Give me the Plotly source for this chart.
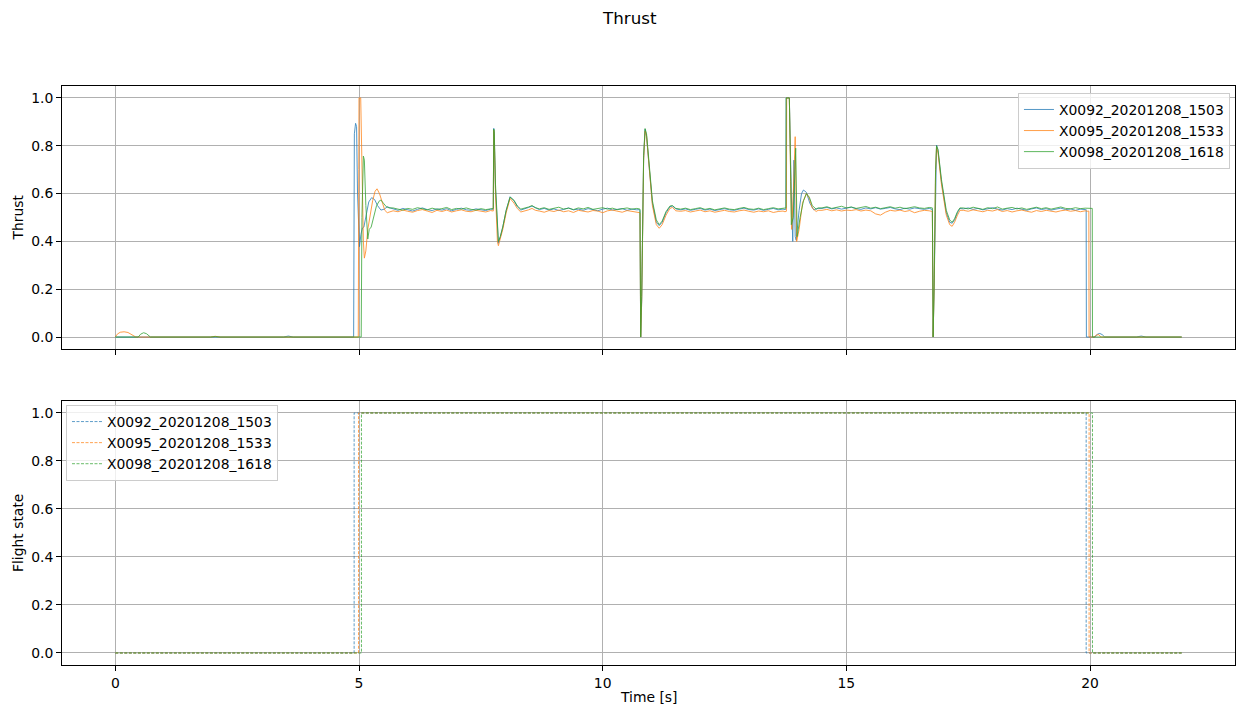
import plotly.graph_objects as go

NAMES = ["X0092_20201208_1503", "X0095_20201208_1533", "X0098_20201208_1618"]
COLORS = ["#1f77b4", "#ff7f0e", "#2ca02c"]

# ---- shared sample times of the steady (hover) segments ----
A_T = [5.7, 5.8, 5.9, 6.0, 6.1, 6.2, 6.3, 6.4, 6.5, 6.6, 6.7, 6.8, 6.9, 7.0, 7.1, 7.2, 7.3, 7.4, 7.5, 7.6, 7.7]
B_T = [8.7, 8.8, 8.9, 9.0, 9.1, 9.2, 9.3, 9.4, 9.5, 9.6, 9.7, 9.8, 9.9, 10.0, 10.1, 10.2, 10.3, 10.4, 10.5, 10.6, 10.7]
C_T = [11.6, 11.7, 11.8, 11.9, 12.0, 12.1, 12.2, 12.3, 12.4, 12.5, 12.6, 12.7, 12.8, 12.9, 13.0, 13.1, 13.2, 13.3, 13.4, 13.5, 13.6, 13.7]
D_T = [14.5, 14.6, 14.7, 14.8, 14.9, 15.0, 15.1, 15.2, 15.3, 15.4, 15.5, 15.6, 15.7, 15.8, 15.9, 16.0, 16.1, 16.2, 16.3, 16.4, 16.5, 16.6, 16.7]
E_T = [17.4, 17.5, 17.6, 17.7, 17.8, 17.9, 18.0, 18.1, 18.2, 18.3, 18.4, 18.5, 18.6, 18.7, 18.8, 18.9, 19.0, 19.1, 19.2, 19.3, 19.4, 19.5, 19.6, 19.7, 19.8, 19.9]

# ---- event sample times ----
EV1_T = [7.74, 7.755, 7.765, 7.775, 7.80, 7.84, 7.86, 7.90, 7.95, 8.02, 8.10, 8.18, 8.25, 8.32, 8.40, 8.48, 8.55, 8.62]
EV2_T = [10.75, 10.765, 10.78, 10.80, 10.84, 10.87, 10.90, 10.95, 11.02, 11.10, 11.16, 11.22, 11.30, 11.38, 11.43, 11.50]
EV4_T = [16.75, 16.765, 16.78, 16.80, 16.83, 16.85, 16.88, 16.95, 17.05, 17.12, 17.17, 17.22, 17.28, 17.33]

# ================= X0092 (blue) =================
b_pre_t = [0.0, 1.95, 2.05, 2.15, 3.45, 3.55, 3.65, 4.89, 4.905, 4.93, 4.95, 4.97, 5.01, 5.04, 5.07, 5.10, 5.15, 5.20, 5.26, 5.32, 5.38, 5.45, 5.52, 5.58, 5.64]
b_pre_v = [0.0, 0.0, 0.003, 0.0, 0.0, 0.004, 0.0, 0.0, 0.85, 0.894, 0.88, 0.60, 0.378, 0.43, 0.456, 0.46, 0.52, 0.565, 0.583, 0.575, 0.55, 0.531, 0.535, 0.545, 0.540]
b_A = [0.535, 0.530, 0.538, 0.532, 0.527, 0.534, 0.540, 0.533, 0.529, 0.536, 0.531, 0.537, 0.528, 0.534, 0.539, 0.532, 0.530, 0.536, 0.533, 0.529, 0.535]
b_ev1 = [0.532, 0.534, 0.873, 0.85, 0.62, 0.42, 0.392, 0.42, 0.46, 0.53, 0.587, 0.57, 0.545, 0.531, 0.535, 0.542, 0.548, 0.540]
b_B = [0.533, 0.538, 0.531, 0.536, 0.529, 0.534, 0.540, 0.532, 0.535, 0.530, 0.537, 0.533, 0.528, 0.535, 0.539, 0.531, 0.534, 0.537, 0.530, 0.535, 0.532]
b_ev2 = [0.533, 0.53, 0.0, 0.15, 0.75, 0.869, 0.84, 0.72, 0.56, 0.48, 0.466, 0.48, 0.52, 0.545, 0.548, 0.536]
b_C = [0.532, 0.536, 0.530, 0.534, 0.538, 0.531, 0.535, 0.529, 0.533, 0.537, 0.532, 0.530, 0.535, 0.539, 0.533, 0.531, 0.536, 0.530, 0.534, 0.538, 0.532, 0.535]
b_ev3_t = [13.74, 13.76, 13.765, 13.83, 13.87, 13.90, 13.925, 13.95, 13.97, 14.03, 14.08, 14.12, 14.18, 14.25, 14.33, 14.42]
b_ev3_v = [0.533, 0.535, 1.0, 1.0, 0.60, 0.40, 0.74, 0.42, 0.405, 0.53, 0.60, 0.615, 0.605, 0.56, 0.532, 0.538]
b_D = [0.538, 0.542, 0.536, 0.540, 0.535, 0.539, 0.543, 0.537, 0.534, 0.540, 0.536, 0.541, 0.535, 0.538, 0.542, 0.536, 0.533, 0.539, 0.535, 0.540, 0.537, 0.534, 0.538]
b_ev4 = [0.535, 0.53, 0.0, 0.2, 0.7, 0.803, 0.78, 0.65, 0.52, 0.48, 0.476, 0.49, 0.52, 0.538]
b_E = [0.536, 0.540, 0.534, 0.538, 0.532, 0.537, 0.541, 0.535, 0.531, 0.537, 0.533, 0.539, 0.534, 0.530, 0.536, 0.540, 0.533, 0.537, 0.531, 0.535, 0.539, 0.533, 0.536, 0.530, 0.535, 0.533]
b_end_t = [19.91, 19.92, 19.925, 20.1, 20.15, 20.2, 20.25, 20.3, 20.95, 21.05, 21.15, 21.88]
b_end_v = [0.534, 0.533, 0.0, 0.0, 0.012, 0.015, 0.01, 0.0, 0.0, 0.004, 0.0, 0.0]

# ================= X0095 (orange) =================
o_pre_t = [0.0, 0.04, 0.1, 0.18, 0.26, 0.33, 0.39, 0.42, 1.95, 2.05, 2.15, 4.985, 4.995, 5.0, 5.035, 5.06, 5.09, 5.11, 5.14, 5.18, 5.22, 5.28, 5.33, 5.37, 5.42, 5.48, 5.53, 5.58, 5.64]
o_pre_v = [0.0, 0.012, 0.02, 0.022, 0.019, 0.01, 0.002, 0.0, 0.0, 0.003, 0.0, 0.0, 0.7, 1.0, 1.0, 0.7, 0.40, 0.33, 0.36, 0.45, 0.50, 0.57, 0.61, 0.62, 0.60, 0.56, 0.53, 0.52, 0.525]
o_A = [0.528, 0.524, 0.531, 0.526, 0.522, 0.529, 0.533, 0.527, 0.521, 0.530, 0.525, 0.531, 0.523, 0.528, 0.532, 0.526, 0.524, 0.530, 0.527, 0.523, 0.529]
o_ev1 = [0.526, 0.527, 0.865, 0.84, 0.60, 0.40, 0.382, 0.41, 0.45, 0.52, 0.58, 0.56, 0.537, 0.523, 0.526, 0.532, 0.538, 0.530]
o_B = [0.527, 0.522, 0.529, 0.525, 0.531, 0.524, 0.528, 0.521, 0.530, 0.526, 0.523, 0.529, 0.527, 0.520, 0.528, 0.531, 0.525, 0.522, 0.529, 0.526, 0.524]
o_ev2 = [0.522, 0.52, 0.0, 0.15, 0.74, 0.862, 0.84, 0.71, 0.55, 0.47, 0.455, 0.47, 0.51, 0.538, 0.542, 0.528]
o_C = [0.526, 0.529, 0.523, 0.527, 0.531, 0.524, 0.528, 0.522, 0.526, 0.530, 0.525, 0.523, 0.528, 0.531, 0.526, 0.522, 0.527, 0.524, 0.528, 0.521, 0.525, 0.527]
o_ev3_t = [13.74, 13.77, 13.775, 13.83, 13.86, 13.88, 13.92, 13.95, 13.98, 14.03, 14.10, 14.18, 14.24, 14.30, 14.38, 14.42]
o_ev3_v = [0.524, 0.526, 1.0, 1.0, 0.62, 0.45, 0.65, 0.838, 0.40, 0.45, 0.56, 0.60, 0.58, 0.54, 0.525, 0.53]
o_D = [0.530, 0.534, 0.528, 0.532, 0.527, 0.531, 0.529, 0.533, 0.527, 0.531, 0.528, 0.515, 0.510, 0.522, 0.530, 0.527, 0.531, 0.525, 0.529, 0.520, 0.526, 0.530, 0.528]
o_ev4 = [0.526, 0.525, 0.0, 0.2, 0.69, 0.795, 0.77, 0.64, 0.51, 0.47, 0.463, 0.48, 0.51, 0.53]
o_E = [0.530, 0.526, 0.532, 0.528, 0.524, 0.530, 0.527, 0.533, 0.525, 0.529, 0.523, 0.528, 0.531, 0.526, 0.522, 0.529, 0.525, 0.530, 0.527, 0.523, 0.528, 0.531, 0.526, 0.529, 0.524, 0.528]
o_end_t = [19.94, 19.975, 19.98, 20.08, 20.13, 20.18, 20.22, 21.0, 21.1, 21.2, 21.88]
o_end_v = [0.526, 0.527, 0.0, 0.0, 0.008, 0.01, 0.0, 0.0, 0.003, 0.0, 0.0]

# ================= X0098 (green) =================
g_pre_t = [0.0, 0.47, 0.52, 0.58, 0.64, 0.69, 0.72, 1.95, 2.05, 2.15, 5.045, 5.06, 5.09, 5.11, 5.14, 5.18, 5.21, 5.25, 5.30, 5.36, 5.42, 5.45, 5.50, 5.56, 5.62]
g_pre_v = [0.0, 0.0, 0.012, 0.018, 0.014, 0.004, 0.0, 0.0, 0.002, 0.0, 0.0, 0.5, 0.757, 0.74, 0.55, 0.41, 0.45, 0.46, 0.50, 0.55, 0.57, 0.573, 0.56, 0.545, 0.54]
g_A = [0.540, 0.535, 0.531, 0.538, 0.534, 0.541, 0.536, 0.532, 0.539, 0.534, 0.537, 0.542, 0.533, 0.538, 0.535, 0.540, 0.534, 0.531, 0.537, 0.533, 0.536]
g_ev1 = [0.537, 0.538, 0.870, 0.86, 0.64, 0.43, 0.40, 0.42, 0.46, 0.53, 0.585, 0.572, 0.548, 0.535, 0.538, 0.544, 0.550, 0.541]
g_B = [0.536, 0.541, 0.534, 0.538, 0.543, 0.535, 0.539, 0.533, 0.540, 0.536, 0.542, 0.534, 0.538, 0.541, 0.535, 0.539, 0.533, 0.537, 0.540, 0.535, 0.538]
g_ev2 = [0.536, 0.535, 0.0, 0.17, 0.76, 0.872, 0.85, 0.73, 0.57, 0.49, 0.47, 0.485, 0.525, 0.548, 0.55, 0.538]
g_C = [0.535, 0.539, 0.533, 0.537, 0.541, 0.534, 0.538, 0.532, 0.536, 0.540, 0.535, 0.533, 0.538, 0.542, 0.536, 0.534, 0.539, 0.533, 0.537, 0.541, 0.536, 0.538]
g_ev3_t = [13.74, 13.76, 13.765, 13.83, 13.86, 13.87, 13.91, 13.96, 13.99, 14.05, 14.12, 14.18, 14.24, 14.30, 14.38, 14.42]
g_ev3_v = [0.537, 0.54, 1.0, 1.0, 0.65, 0.47, 0.50, 0.79, 0.42, 0.50, 0.57, 0.60, 0.585, 0.55, 0.535, 0.54]
g_D = [0.540, 0.545, 0.538, 0.542, 0.547, 0.540, 0.544, 0.538, 0.542, 0.546, 0.539, 0.543, 0.537, 0.541, 0.545, 0.539, 0.543, 0.537, 0.541, 0.545, 0.540, 0.538, 0.542]
g_ev4 = [0.541, 0.54, 0.0, 0.21, 0.70, 0.80, 0.785, 0.66, 0.53, 0.49, 0.48, 0.495, 0.525, 0.54]
g_E = [0.540, 0.536, 0.543, 0.538, 0.534, 0.541, 0.537, 0.544, 0.535, 0.539, 0.542, 0.536, 0.540, 0.534, 0.538, 0.543, 0.537, 0.541, 0.535, 0.539, 0.544, 0.538, 0.536, 0.541, 0.537, 0.539]
g_end_t = [19.95, 20.0, 20.045, 20.05, 20.2, 21.88]
g_end_v = [0.539, 0.537, 0.538, 0.0, 0.0, 0.0]

# ================= Flight state (step: value holds from each time) =================
fs_b_t = [0.0, 4.90, 19.92, 21.88]
fs_o_t = [0.0, 4.99, 19.98, 21.88]
fs_g_t = [0.0, 5.05, 20.05, 21.88]
fs_v = [0, 1, 0, 0]


def build(pre_t, pre_v, a, ev1, b, ev2, c, ev3_t, ev3_v, d, ev4, e, end_t, end_v):
    parts = [(pre_t, pre_v), (A_T, a), (EV1_T, ev1), (B_T, b), (EV2_T, ev2), (C_T, c),
             (ev3_t, ev3_v), (D_T, d), (EV4_T, ev4), (E_T, e), (end_t, end_v)]
    ts, vs = [], []
    for t, v in parts:
        assert len(t) == len(v), (len(t), len(v))
        ts += list(t)
        vs += list(v)
    return ts, vs


series = [
    build(b_pre_t, b_pre_v, b_A, b_ev1, b_B, b_ev2, b_C, b_ev3_t, b_ev3_v, b_D, b_ev4, b_E, b_end_t, b_end_v),
    build(o_pre_t, o_pre_v, o_A, o_ev1, o_B, o_ev2, o_C, o_ev3_t, o_ev3_v, o_D, o_ev4, o_E, o_end_t, o_end_v),
    build(g_pre_t, g_pre_v, g_A, g_ev1, g_B, g_ev2, g_C, g_ev3_t, g_ev3_v, g_D, g_ev4, g_E, g_end_t, g_end_v),
]
fs_times = [fs_b_t, fs_o_t, fs_g_t]

FONT = "DejaVu Sans"
FS = 13.9
fig = go.Figure()

for (t, v), name, col in zip(series, NAMES, COLORS):
    fig.add_trace(go.Scatter(x=t, y=v, mode="lines", name=name, xaxis="x", yaxis="y",
                             line=dict(color=col, width=0.9), opacity=0.85, legend="legend"))

for t, name, col in zip(fs_times, NAMES, COLORS):
    fig.add_trace(go.Scatter(x=t, y=fs_v, mode="lines", name=name, xaxis="x2", yaxis="y2",
                             line=dict(color=col, width=0.8, dash="3px,1.5px", shape="hv"),
                             opacity=0.9, legend="legend2"))

axis_common = dict(showline=True, mirror=True, linecolor="black", linewidth=1,
                   ticks="outside", ticklen=5, tickwidth=1, tickcolor="black",
                   showgrid=True, gridcolor="#b0b0b0", gridwidth=1, zeroline=False,
                   tickfont=dict(family=FONT, size=FS, color="black"))

XR = [-1.094, 22.974]
YR = [-0.05, 1.05]

fig.update_layout(
    width=1236, height=711,
    margin=dict(l=62, r=1, t=86, b=46),
    paper_bgcolor="white", plot_bgcolor="white",
    font=dict(family=FONT, size=FS, color="black"),
    xaxis=dict(domain=[0, 1], anchor="y", range=XR, tickvals=[0, 5, 10, 15, 20],
               showticklabels=False, **axis_common),
    yaxis=dict(domain=[0.5458, 1], anchor="x", range=YR, tickvals=[0, 0.2, 0.4, 0.6, 0.8, 1.0],
               tickformat=".1f", **axis_common),
    xaxis2=dict(domain=[0, 1], anchor="y2", range=XR, tickvals=[0, 5, 10, 15, 20],
                matches="x", **axis_common),
    yaxis2=dict(domain=[0, 0.456], anchor="x2", range=YR, tickvals=[0, 0.2, 0.4, 0.6, 0.8, 1.0],
                tickformat=".1f", **axis_common),
    legend=dict(x=0.9957, y=0.988, xanchor="right", yanchor="top",
                bgcolor="rgba(255,255,255,0.8)", bordercolor="#cccccc", borderwidth=1,
                font=dict(family=FONT, size=FS, color="black"), tracegroupgap=0),
    legend2=dict(x=0.0034, y=0.449, xanchor="left", yanchor="top",
                 bgcolor="rgba(255,255,255,0.8)", bordercolor="#cccccc", borderwidth=1,
                 font=dict(family=FONT, size=FS, color="black"), tracegroupgap=0),
    showlegend=True,
    annotations=[
        dict(text="Thrust", xref="paper", yref="paper", x=0.4834, y=1.117, showarrow=False,
             xanchor="center", yanchor="middle", font=dict(family=FONT, size=16.7)),
        dict(text="Thrust", xref="paper", yref="paper", x=-0.0375, y=0.7728, showarrow=False,
             textangle=-90, xanchor="center", yanchor="middle", font=dict(family=FONT, size=FS)),
        dict(text="Flight state", xref="paper", yref="paper", x=-0.0375, y=0.228, showarrow=False,
             textangle=-90, xanchor="center", yanchor="middle", font=dict(family=FONT, size=FS)),
        dict(text="Time [s]", xref="paper", yref="paper", x=0.5, y=-0.0553, showarrow=False,
             xanchor="center", yanchor="middle", font=dict(family=FONT, size=FS)),
    ],
)

fig.write_html("out.html")
